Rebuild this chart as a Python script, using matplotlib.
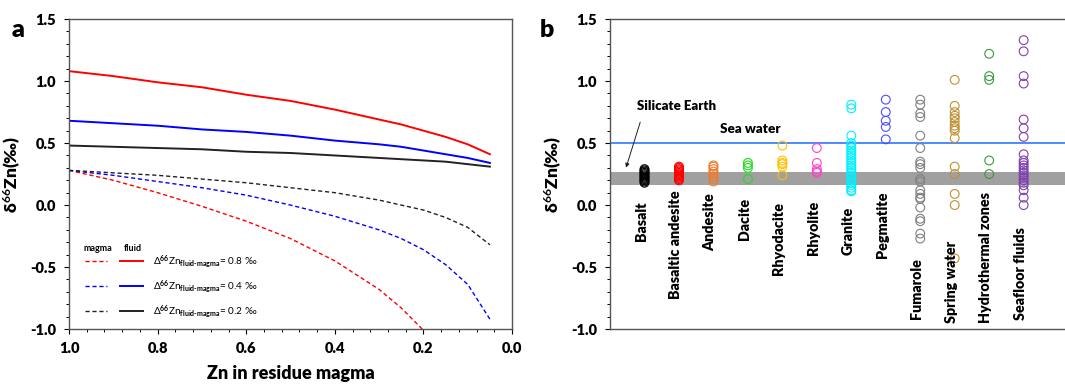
import numpy as np
import matplotlib.pyplot as plt
from matplotlib.legend_handler import HandlerTuple
from matplotlib.ticker import MultipleLocator, FormatStrFormatter

plt.rcParams['font.family'] = ['Lato', 'DejaVu Sans']
plt.rcParams['font.weight'] = 'bold'
plt.rcParams['mathtext.fontset'] = 'custom'
plt.rcParams['mathtext.rm'] = 'Lato'
plt.rcParams['mathtext.bf'] = 'Lato:bold'
plt.rcParams['mathtext.it'] = 'Lato:italic'
plt.rcParams['axes.unicode_minus'] = False

# ---- panel a: Zn left in magma vs d66Zn
zn_frac = [1.0, 0.9, 0.8, 0.7, 0.6, 0.5, 0.4, 0.3, 0.25, 0.2, 0.15, 0.1, 0.05]
magma_08 = [0.28, 0.20, 0.10, -0.01, -0.13, -0.27, -0.45, -0.68, -0.83, -1.01]
fluid_08 = [1.08, 1.04, 0.99, 0.95, 0.89, 0.84, 0.77, 0.69, 0.65, 0.60, 0.55, 0.49, 0.41]
magma_04 = [0.28, 0.24, 0.19, 0.14, 0.08, 0.00, -0.09, -0.20, -0.27, -0.36, -0.48, -0.64, -0.92]
fluid_04 = [0.68, 0.66, 0.64, 0.61, 0.59, 0.56, 0.52, 0.49, 0.47, 0.44, 0.41, 0.38, 0.34]
magma_02 = [0.28, 0.26, 0.24, 0.21, 0.18, 0.14, 0.10, 0.04, 0.00, -0.04, -0.10, -0.18, -0.32]
fluid_02 = [0.48, 0.47, 0.46, 0.45, 0.43, 0.42, 0.40, 0.38, 0.37, 0.36, 0.35, 0.33, 0.31]
delta_labels = ['0.8', '0.4', '0.2']

# ---- panel b: d66Zn of rocks and fluids
categories = ['Basalt', 'Basaltic andesite', 'Andesite', 'Dacite', 'Rhyodacite',
              'Rhyolite', 'Granite', 'Pegmatite', 'Fumarole', 'Spring water',
              'Hydrothermal zones', 'Seafloor fluids']
basalt = [0.18, 0.19, 0.20, 0.21, 0.22, 0.23, 0.24, 0.25, 0.26, 0.27, 0.28, 0.29]
basaltic_andesite = [0.20, 0.21, 0.22, 0.23, 0.24, 0.25, 0.26, 0.27, 0.28, 0.29, 0.30, 0.31]
andesite = [0.19, 0.21, 0.23, 0.25, 0.27, 0.29, 0.31, 0.32]
dacite = [0.34, 0.32, 0.30, 0.21]
rhyodacite = [0.48, 0.36, 0.34, 0.33, 0.31, 0.24]
rhyolite = [0.46, 0.34, 0.29, 0.27, 0.26]
granite = [0.81, 0.78, 0.56, 0.50, 0.48, 0.46, 0.44, 0.42, 0.40, 0.38, 0.36, 0.34,
           0.32, 0.30, 0.28, 0.26, 0.24, 0.22, 0.20, 0.18, 0.16, 0.14, 0.12, 0.11]
pegmatite = [0.85, 0.75, 0.68, 0.63, 0.53]
fumarole = [0.85, 0.81, 0.74, 0.71, 0.56, 0.46, 0.35, 0.33, 0.30, 0.21, 0.19, 0.12,
            0.09, 0.06, 0.05, -0.02, -0.11, -0.13, -0.23, -0.27]
spring_water = [1.01, 0.80, 0.75, 0.72, 0.70, 0.67, 0.64, 0.62, 0.60, 0.54, 0.31,
                0.25, 0.09, 0.00, -0.43]
hydrothermal = [1.22, 1.04, 1.01, 0.36, 0.25]
seafloor = [1.33, 1.24, 1.04, 0.98, 0.69, 0.62, 0.55, 0.41, 0.36, 0.34, 0.32, 0.30,
            0.28, 0.26, 0.24, 0.22, 0.20, 0.18, 0.16, 0.12, 0.06, 0.00]
groups = [basalt, basaltic_andesite, andesite, dacite, rhyodacite, rhyolite, granite,
          pegmatite, fumarole, spring_water, hydrothermal, seafloor]
colors = ['#000000', '#ff0000', '#ed7d31', '#22dd22', '#ffc000', '#ff44cc',
          '#00f0ff', '#4d4dff', '#808080', '#bf9030', '#3a9a3a', '#8040b0']
label_bottom = [-0.29, -0.76, -0.37, -0.28, -0.56, -0.40, -0.40, -0.43,
                -0.92, -0.95, -0.95, -0.93]
silicate_earth = (0.16, 0.265)
sea_water = 0.5

fig = plt.figure(figsize=(10.65, 3.89), dpi=100)
ax1 = fig.add_axes([0.0648, 0.154, 0.416, 0.797])
ax2 = fig.add_axes([0.5728, 0.154, 0.4272, 0.797])

n = len(magma_08)
m1, = ax1.plot(zn_frac[:n], magma_08, color='#ff0000', ls=(0, (3, 2)), lw=1.0)
f1, = ax1.plot(zn_frac, fluid_08, color='#ff0000', lw=1.4)
m2, = ax1.plot(zn_frac, magma_04, color='#0000ff', ls=(0, (3, 2)), lw=1.0)
f2, = ax1.plot(zn_frac, fluid_04, color='#0000ff', lw=1.4)
m3, = ax1.plot(zn_frac, magma_02, color='#222222', ls=(0, (3, 2)), lw=1.0)
f3, = ax1.plot(zn_frac, fluid_02, color='#222222', lw=1.4)

leg_labels = ['Δ$^{66}$Zn$_{\\mathrm{fluid\\text{-}magma}}$= %s ‰' % d for d in delta_labels]
leg = ax1.legend([(m1, f1), (m2, f2), (m3, f3)], leg_labels,
                 handler_map={tuple: HandlerTuple(ndivide=None, pad=1.3)},
                 handlelength=5.8, handletextpad=1.0, labelspacing=0.8,
                 loc='lower left', bbox_to_anchor=(0.036, 0.03), borderaxespad=0,
                 borderpad=0, frameon=False, prop={'size': 7.2, 'weight': 'normal'})
ax1.text(0.032, 0.26, 'magma', transform=ax1.transAxes, fontsize=6.5, va='center')
ax1.text(0.124, 0.26, 'fluid', transform=ax1.transAxes, fontsize=6.5, va='center')

ax1.set_xlim(1.0, 0.0)
ax1.set_ylim(-1.0, 1.5)
ax1.xaxis.set_major_locator(MultipleLocator(0.2))
ax1.xaxis.set_minor_locator(MultipleLocator(0.04))
ax1.set_xlabel('Zn in residue magma', fontsize=13, fontweight='heavy', labelpad=7)
ax1.set_ylabel('δ$^{\\mathbf{66}}$Zn(‰)', fontsize=12.5, fontweight='heavy', labelpad=5)
ax1.text(-0.13, 1.0, 'a', transform=ax1.transAxes, fontsize=18, fontweight='heavy', va='top')

# panel b
ax2.axhspan(*silicate_earth, color='#a0a0a0', lw=0, zorder=0)
ax2.axhline(sea_water, color='#1a6cff', lw=1.1, zorder=1)
xs = np.arange(1, len(categories) + 1)
for x, vals, c in zip(xs, groups, colors):
    ax2.scatter(np.full(len(vals), x), vals, s=40, facecolors='none', edgecolors=c,
                linewidths=0.8, zorder=3)
for x, name, yb in zip(xs, categories, label_bottom):
    ax2.text(x - 0.1, yb, name, rotation=90, ha='center', va='bottom',
             fontsize=10.3, fontweight='heavy')
ax2.text(0.78, 0.80, 'Silicate Earth', fontsize=9.5, fontweight='heavy', va='center')
ax2.text(3.2, 0.61, 'Sea water', fontsize=9.7, fontweight='heavy', va='center')
ax2.annotate('', xy=(0.44, 0.28), xytext=(0.9, 0.69),
             arrowprops=dict(arrowstyle='-|>', lw=0.7, color='#222222', mutation_scale=6))
ax2.set_xlim(0, 13.2)
ax2.set_ylim(-1.0, 1.5)
ax2.set_xticks([])
ax2.spines['right'].set_visible(False)
ax2.set_ylabel('δ$^{\\mathbf{66}}$Zn(‰)', fontsize=12.5, fontweight='heavy', labelpad=5)
ax2.text(-0.155, 1.0, 'b', transform=ax2.transAxes, fontsize=18, fontweight='heavy', va='top')

for ax in (ax1, ax2):
    ax.yaxis.set_major_locator(MultipleLocator(0.5))
    ax.yaxis.set_minor_locator(MultipleLocator(0.1))
    ax.yaxis.set_major_formatter(FormatStrFormatter('%.1f'))
    ax.tick_params(which='major', direction='out', length=3.5, width=0.8, labelsize=10.5, pad=6)
    ax.tick_params(which='minor', direction='out', length=2.5, width=0.7)
    for s in ax.spines.values():
        s.set_color('#555555')
        s.set_linewidth(1.0)
    for lab in ax.get_xticklabels() + ax.get_yticklabels():
        lab.set_fontweight('heavy')
ax1.xaxis.set_major_formatter(FormatStrFormatter('%.1f'))

fig.savefig('out.png', dpi=100)
